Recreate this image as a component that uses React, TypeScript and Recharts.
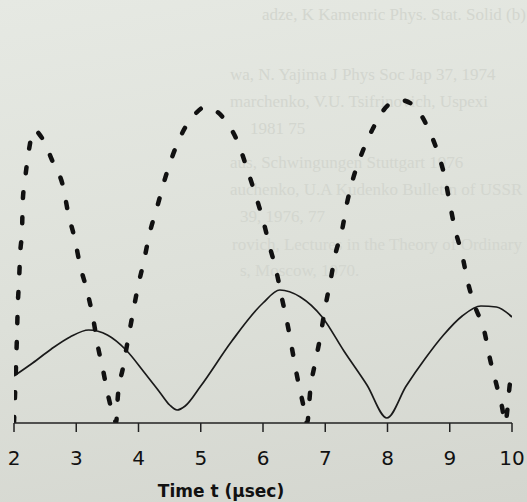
import React from "react";
import { LineChart, Line, XAxis, YAxis } from "recharts";

// Dashed (thick) curve: time (µs) and amplitude (arbitrary units)
const dashedTime = [
  2.0, 2.05, 2.06, 2.08, 2.1, 2.13, 2.14, 2.18, 2.24, 2.32, 2.45, 2.63, 2.79, 2.87, 2.98, 3.06, 3.17, 3.27, 3.35, 3.43, 3.51, 3.62, 3.64,
  3.67, 3.75, 3.83, 3.91, 3.99, 4.09, 4.18, 4.3, 4.41, 4.54, 4.71, 4.91, 5.07,
  5.39, 5.6, 5.74, 5.87, 6.0, 6.11, 6.21, 6.31, 6.39, 6.47, 6.55, 6.64, 6.71,
  6.76, 6.84, 6.92, 7.0, 7.08, 7.16, 7.27, 7.35, 7.45, 7.59, 7.77, 8.01, 8.2,
  8.41, 8.65, 8.81, 8.92, 9.0, 9.08, 9.2, 9.29, 9.41, 9.55, 9.65, 9.76, 9.84, 9.89, 9.97, 10.0,
];
const dashedAmp = [
  0, 93, 116, 141, 170, 195, 221, 245, 273, 293, 285, 260, 236, 210, 183, 158, 133, 105, 76, 53, 28, 3, 0,
  28, 55, 83, 110, 136, 163, 190, 216, 241, 266, 291, 309, 316,
  303, 280, 255, 230, 203, 176, 153, 123, 100, 73, 46, 20, 0,
  33, 61, 86, 116, 141, 168, 193, 220, 245, 270, 295, 318, 323,
  318, 295, 270, 246, 220, 195, 168, 141, 116, 93, 63, 36, 16, 0, 41, 53,
];

// Solid (thin) curve
const solidTime = [
  2.0, 2.3, 2.6, 2.9, 3.2, 3.5, 3.8, 4.1, 4.35, 4.5, 4.62, 4.75, 5.0, 5.5, 6.0, 6.27, 6.6, 6.95, 7.3, 7.67, 7.99,
  8.3, 8.6, 8.9, 9.2, 9.5, 9.75, 10.0,
];
const solidAmp = [
  47, 60, 74, 86, 93, 88, 73, 50, 30, 18, 13, 17, 37, 82, 120, 133, 126, 106, 72, 38, 5,
  37, 64, 88, 107, 117, 116, 106,
];

const xTicks = [2, 3, 4, 5, 6, 7, 8, 9, 10];
const xTitle = "Time t (\u03bcsec)";

// faint show-through text from the scanned page
const faintLines = [
  "adze, K Kamenric Phys. Stat. Solid (b)",
  "wa, N. Yajima J Phys Soc Jap 37, 1974",
  "marchenko, V.U. Tsifrinovich, Uspexi",
  "1981 75",
  "aus, Schwingungen Stuttgart 1976",
  "auchenko, U.A Kudenko Bulletin of USSR",
  "39, 1976, 77",
  "rovich, Lectures in the Theory of Ordinary",
  "s, Moscow, 1970.",
];
const faintPos: [number, number][] = [
  [262, 20], [230, 80], [230, 107], [250, 134], [230, 168],
  [230, 195], [240, 222], [232, 250], [240, 276],
];

const dashedData = dashedTime.map((t, i) => ({ t, v: dashedAmp[i] }));
const solidData = solidTime.map((t, i) => ({ t, v: solidAmp[i] }));

const TitleLabel = () => (
  <text
    x={221}
    y={497}
    textAnchor="middle"
    fontFamily="DejaVu Sans"
    fontWeight="bold"
    fontSize={17}
    fill="#111"
  >
    {xTitle}
  </text>
);

export default function App() {
  return (
    <div
      style={{
        position: "absolute",
        left: 0,
        top: 0,
        width: 527,
        height: 502,
        overflow: "hidden",
        background: "linear-gradient(170deg, #e6e9e3 0%, #dde0d9 55%, #d4d6cf 100%)",
      }}
    >
      <svg width={527} height={502} style={{ position: "absolute", left: 0, top: 0 }}>
        {faintLines.map((s, i) => (
          <text
            key={i}
            x={faintPos[i][0]}
            y={faintPos[i][1]}
            fontFamily="Liberation Serif"
            fontSize={17}
            fill="#d3d6cf"
          >
            {s}
          </text>
        ))}
      </svg>
      <div style={{ position: "absolute", left: 0, top: 0 }}>
        <LineChart width={527} height={502} margin={{ top: 12, right: 15, left: 14, bottom: 19 }}>
          <XAxis
            dataKey="t"
            type="number"
            domain={[2, 10]}
            ticks={xTicks}
            allowDataOverflow
            height={60}
            tickSize={9}
            tickMargin={19}
            axisLine={{ stroke: "#222", strokeWidth: 1.5 }}
            tickLine={{ stroke: "#222", strokeWidth: 1.5 }}
            tick={{ fontFamily: "DejaVu Sans", fontSize: 20, fill: "#111" }}
            label={<TitleLabel />}
          />
          <YAxis
            type="number"
            domain={[0, 411]}
            allowDataOverflow
            width={0}
            tick={false}
            tickLine={false}
            axisLine={{ stroke: "#111", strokeWidth: 2 }}
          />
          <Line
            data={solidData}
            dataKey="v"
            type="monotone"
            stroke="#1a1a1a"
            strokeWidth={1.7}
            dot={false}
            isAnimationActive={false}
          />
          <Line
            data={dashedData}
            dataKey="v"
            type="monotone"
            stroke="#111"
            strokeWidth={4.5}
            strokeDasharray="6 19"
            strokeLinecap="round"
            dot={false}
            isAnimationActive={false}
          />
        </LineChart>
      </div>
    </div>
  );
}
